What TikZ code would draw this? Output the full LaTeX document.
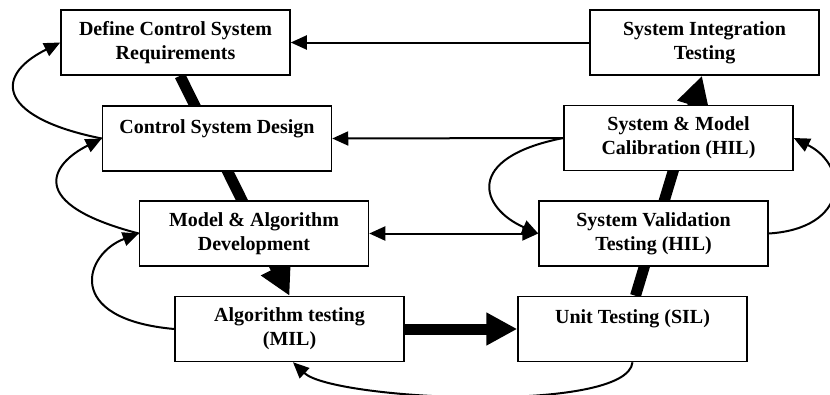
\documentclass[tikz,border=0pt]{standalone}
\usepackage{fontspec}
\setmainfont{Liberation Serif}
\usetikzlibrary{arrows.meta}
\usetikzlibrary{backgrounds}

\begin{document}
\begin{tikzpicture}[x=1pt,y=-1pt,
    >={Triangle[length=16pt,width=14pt]},
    box/.style={draw, line width=1.5pt, fill=white, minimum width=229pt, minimum height=65pt,
        align=center, inner sep=0pt, font=\fontsize{20}{24}\selectfont\bfseries},
    thin/.style={line width=2pt},
    fat/.style={line width=11pt, -{Triangle[length=31pt,width=31pt]}}]

\useasboundingbox (0,0) rectangle (830,394);

% left column
\node[box] (req) at (175.5,42.5) {Define Control System\\Requirements};
\node[box] (design) at (217,138.5) {Control System Design\\~};
\node[box] (model) at (254,233.5) {Model \& Algorithm\\Development};
\node[box] (mil) at (289.5,329) {Algorithm testing\\(MIL)};

% right column
\node[box] (sit) at (704.5,42.5) {System Integration\\Testing};
\node[box] (calib) at (678.5,138) {System \& Model\\Calibration (HIL)};
\node[box] (valid) at (653.5,233.5) {System Validation\\Testing (HIL)};
\node[box] (sil) at (632.5,329) {Unit Testing (SIL)\\~};

% main flow, behind the boxes
\begin{pgfonlayer}{background}
  \draw[fat] ([xshift=4.5pt]req.south) -- (mil.north);
  \draw[fat] (mil.east) -- (sil.west);
  \draw[fat] ([xshift=3pt]sil.north) -- ([xshift=-2.5pt]sit.south);
\end{pgfonlayer}

% feedback
\draw[thin,->] (sit.west) -- (req.east);
\draw[thin,->] (calib.west) -- (design.east);
\draw[thin,<->] (model.east) -- (valid.west);

\draw[thin,->] (design.west) .. controls +(-100,-20) and +(-70,35) .. (req.west);
\draw[thin,->] (model.west) .. controls +(-115,-30) and +(-50,25) .. (design.west);
\draw[thin,->] (mil.west) .. controls +(-112,-10) and +(-54,20) .. (model.west);

\draw[thin,->] (calib.west) .. controls +(-101,20) and +(-57.5,-25) .. (valid.west);
\draw[thin,->] (valid.east) .. controls +(80,-5) and +(56,28) .. (calib.east);
\draw[thin,->] (sil.south) .. controls +(-5,52) and +(40,38) .. ([xshift=3.5pt]mil.south);
\end{tikzpicture}
\end{document}
